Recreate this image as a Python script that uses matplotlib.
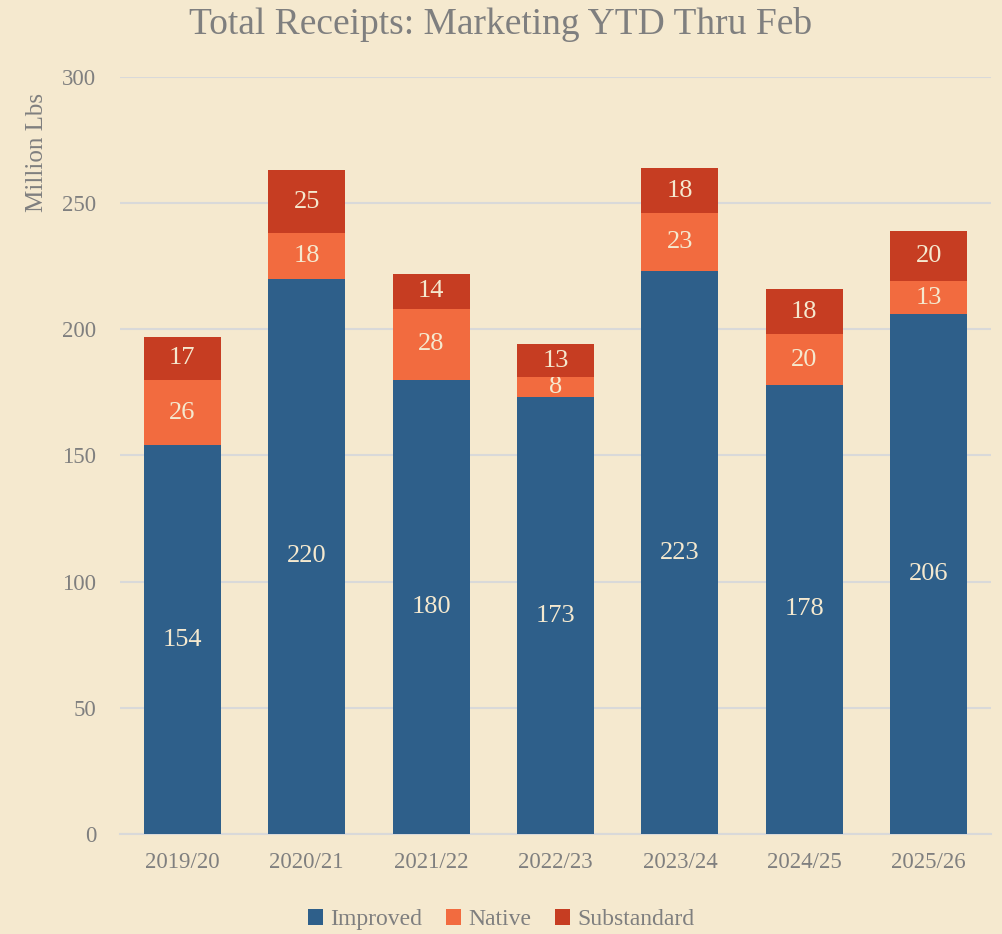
import numpy as np
import matplotlib.pyplot as plt

plt.rcParams['font.family'] = ['Liberation Serif', 'DejaVu Serif']

seasons = ['2019/20', '2020/21', '2021/22', '2022/23', '2023/24', '2024/25', '2025/26']
improved = [154, 220, 180, 173, 223, 178, 206]
native = [26, 18, 28, 8, 23, 20, 13]
substandard = [17, 25, 14, 13, 18, 18, 20]

bg = '#F5E9CF'
grey = '#7F7F7F'
colors = ['#2E5F8A', '#F26B3F', '#C63D22']

fig = plt.figure(figsize=(10.02, 9.34), dpi=100, facecolor=bg)
ax = fig.add_axes([0.1198, 0.1071, 0.8692, 0.8105], facecolor=bg)

x = np.arange(len(seasons))
w = 0.62
bottom = np.zeros(len(seasons))
for vals, col, name in zip([improved, native, substandard], colors,
                           ['Improved', 'Native', 'Substandard']):
    bars = ax.bar(x, vals, w, bottom=bottom, color=col, label=name, zorder=3)
    ax.bar_label(bars, labels=[str(v) for v in vals], label_type='center',
                 color=bg, fontsize=19)
    bottom += np.array(vals)

ax.set_xlim(-0.5, 6.5)
ax.set_ylim(0, 300)
ax.set_yticks(range(0, 301, 50))
ax.set_xticks(x)
ax.set_xticklabels(seasons)
ax.grid(axis='y', color='#D9D9D9', linewidth=1.5, zorder=0)
for s in ['top', 'right', 'left']:
    ax.spines[s].set_visible(False)
ax.spines['bottom'].set_color('#D9D9D9')
ax.spines['bottom'].set_linewidth(1.5)
ax.tick_params(axis='both', length=0, colors=grey, labelsize=16.5)
ax.tick_params(axis='y', pad=17)
ax.tick_params(axis='x', pad=13)

ax.set_ylabel('Million Lbs', color=grey, fontsize=18)
ax.yaxis.set_label_coords(-0.083, 0.9)

fig.suptitle('Total Receipts: Marketing YTD Thru Feb', color=grey, fontsize=27,
             y=0.992)

fig.legend(loc='lower center', bbox_to_anchor=(0.5, -0.019), ncol=3,
           frameon=False, fontsize=17, labelcolor=grey, handlelength=0.65,
           handleheight=0.65, handletextpad=0.3, columnspacing=1.0)

fig.savefig('out.png', dpi=100, facecolor=bg)
